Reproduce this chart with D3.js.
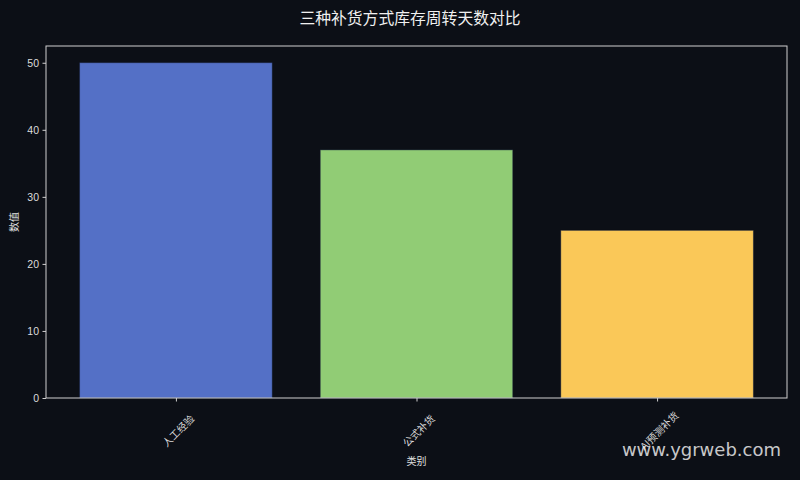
<!DOCTYPE html>
<html>
<head>
<meta charset="utf-8">
<script src="https://cdn.jsdelivr.net/npm/d3@7"></script>
<style>
  html, body { margin: 0; padding: 0; background: #0c0f16; }
  svg { display: block; }
</style>
</head>
<body>
<svg id="chart"></svg>
<script>
// data
const categories = ["人工经验", "公式补货", "AI预测补货"];
const values = [50, 37, 25];
const barColors = ["#5470c6", "#91cc75", "#fac858"];
const yTicks = [0, 10, 20, 30, 40, 50];

const svgWidth = 800, svgHeight = 480;
const margin = { top: 46, right: 13, bottom: 82, left: 46 };
const width = svgWidth - margin.left - margin.right;
const height = svgHeight - margin.top - margin.bottom;
const cjk = "'Noto Sans CJK SC', 'Noto Sans', sans-serif";

const svg = d3.select("#chart")
    .attr("width", svgWidth)
    .attr("height", svgHeight)
    .style("background", "#0c0f16");

svg.append("text")
    .attr("x", svgWidth / 2 + 10)
    .attr("y", 24)
    .attr("text-anchor", "middle")
    .attr("fill", "#f0f0f0")
    .style("font-family", cjk)
    .style("font-size", "15.8px")
    .text("三种补货方式库存周转天数对比");

const g = svg.append("g")
    .attr("transform", "translate(" + margin.left + "," + margin.top + ")");

// matplotlib-like margins around bars of width 0.8
const xScale = d3.scaleLinear()
    .domain([-0.54, categories.length - 1 + 0.54])
    .range([0, width]);

const yScale = d3.scaleLinear()
    .domain([0, 52.5])
    .range([height, 0]);

const barW = xScale(0.8) - xScale(0);

g.selectAll("rect.bar")
    .data(values)
    .join("rect")
    .attr("class", "bar")
    .attr("x", (d, i) => xScale(i - 0.4))
    .attr("y", d => yScale(d))
    .attr("width", barW)
    .attr("height", d => yScale(0) - yScale(d))
    .attr("fill", (d, i) => barColors[i])
    .attr("stroke", "rgba(30,40,70,0.5)")
    .attr("stroke-width", 0.8);

// frame
g.append("rect")
    .attr("width", width)
    .attr("height", height)
    .attr("fill", "none")
    .attr("stroke", "#d0d0d0")
    .attr("stroke-width", 1);

const yAxis = g.append("g")
    .call(d3.axisLeft(yScale).tickValues(yTicks).tickSize(3.5).tickPadding(3.5));
yAxis.select(".domain").remove();
yAxis.selectAll("line").attr("stroke", "#d0d0d0");
yAxis.selectAll("text")
    .attr("fill", "#dcdcdc")
    .style("font-family", "'Liberation Sans', Arial, sans-serif")
    .style("font-size", "10.5px");

const xAxis = g.append("g")
    .attr("transform", "translate(0," + height + ")")
    .call(d3.axisBottom(xScale)
        .tickValues(d3.range(categories.length))
        .tickFormat(i => categories[i])
        .tickSize(3.5));
xAxis.select(".domain").remove();
xAxis.selectAll("line").attr("stroke", "#d0d0d0");
xAxis.selectAll("text")
    .attr("fill", "#dcdcdc")
    .attr("text-anchor", "middle")
    .attr("y", 0)
    .attr("dy", "0.35em")
    .attr("transform", "translate(2,33) rotate(-45)")
    .style("font-family", cjk)
    .style("font-size", "10px");

svg.append("text")
    .attr("x", margin.left + width / 2)
    .attr("y", 465)
    .attr("text-anchor", "middle")
    .attr("fill", "#e0e0e0")
    .style("font-family", cjk)
    .style("font-size", "10px")
    .text("类别");

svg.append("text")
    .attr("transform", "translate(18," + (margin.top + height / 2) + ") rotate(-90)")
    .attr("text-anchor", "middle")
    .attr("fill", "#e0e0e0")
    .style("font-family", cjk)
    .style("font-size", "10px")
    .text("数值");

// watermark
svg.append("text")
    .attr("x", 781)
    .attr("y", 456)
    .attr("text-anchor", "end")
    .attr("fill", "rgba(235,235,235,0.85)")
    .style("font-family", "'DejaVu Sans', sans-serif")
    .style("font-size", "18px")
    .text("www.ygrweb.com");
</script>
</body>
</html>
